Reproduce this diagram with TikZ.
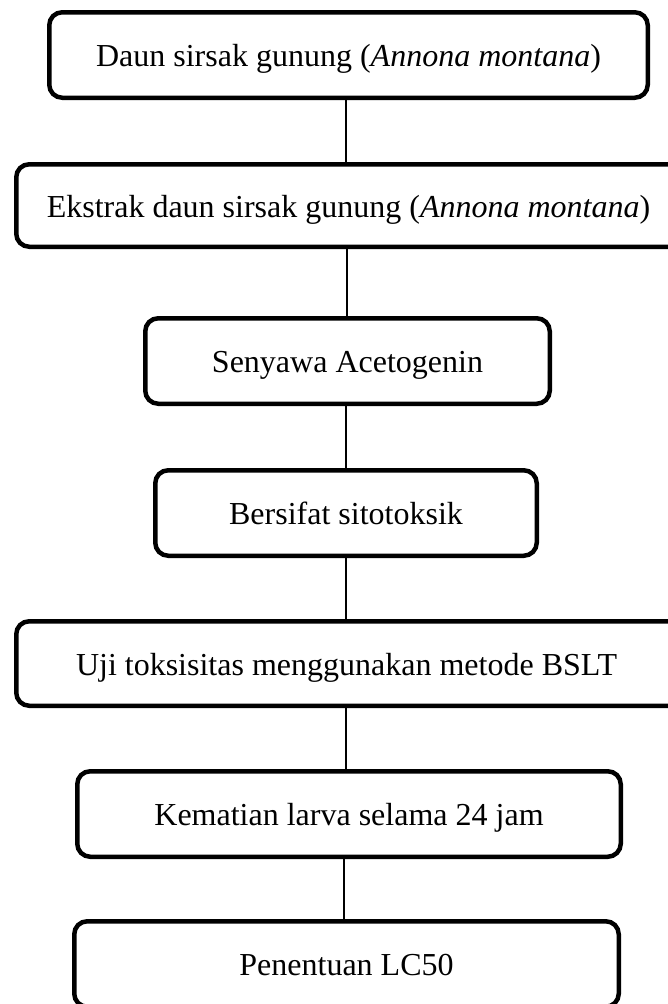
\documentclass[tikz,border=0pt]{standalone}
\usepackage{fontspec}
\setmainfont{Liberation Serif}
\begin{document}
\begin{tikzpicture}[x=1pt,y=-1pt,
  flowbox/.style={draw=black, line width=4.5pt, rounded corners=13pt, fill=white,
    inner sep=0pt, text height=25pt, text depth=2pt,
    font=\fontsize{32}{38}\selectfont},
  link/.style={draw=black, line width=1.4pt}]
\useasboundingbox (0,0) rectangle (668,1004);
\clip (0,0) rectangle (668,1004);
\fill[white] (0,0) rectangle (668,1004);
\node[flowbox, minimum width=598.5pt, minimum height=85.5pt] (b1) at (348.5,55) {Daun sirsak gunung (\textit{Annona montana})};
\node[flowbox, minimum width=693.5pt, minimum height=82.5pt] (b2) at (363,205.5) {\hspace*{-29pt}Ekstrak daun sirsak gunung (\textit{Annona montana})\hspace*{0pt}};
\node[flowbox, minimum width=404.5pt, minimum height=85.5pt] (b3) at (347.5,361) {Senyawa Acetogenin};
\node[flowbox, minimum width=381.5pt, minimum height=85.5pt] (b4) at (346,513) {Bersifat sitotoksik};
\node[flowbox, minimum width=693.5pt, minimum height=84.5pt] (b5) at (363,663.5) {\hspace*{-33pt}Uji toksisitas menggunakan metode BSLT\hspace*{0pt}};
\node[flowbox, minimum width=543.5pt, minimum height=85.5pt] (b6) at (349,814) {Kematian larva selama 24 jam};
\node[flowbox, minimum width=544.5pt, minimum height=85.5pt] (b7) at (346.5,964) {Penentuan LC50};
\draw[link] (b1.south -| 346,0) -- (b2.north -| 346,0);
\draw[link] (b2.south -| 347,0) -- (b3.north -| 347,0);
\draw[link] (b3.south -| 346,0) -- (b4.north -| 346,0);
\draw[link] (b4) -- (b5.north -| b4.south);
\draw[link] (b5.south -| 346,0) -- (b6.north -| 346,0);
\draw[link] (b6.south -| 344,0) -- (b7.north -| 344,0);
\end{tikzpicture}
\end{document}
